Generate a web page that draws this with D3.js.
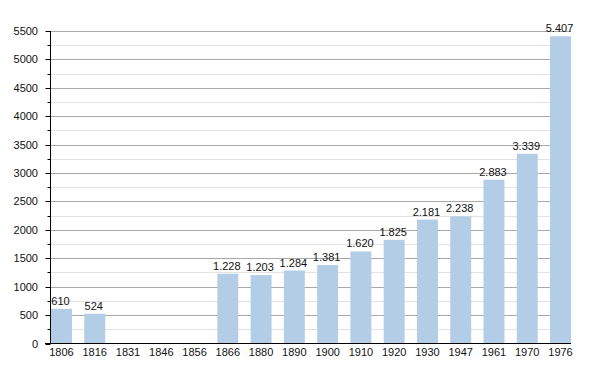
<!DOCTYPE html>
<html>
<head>
<meta charset="utf-8">
<script src="https://cdn.jsdelivr.net/npm/d3@7"></script>
<style>
  body { margin: 0; background: #fff; }
  text { font-family: "Liberation Sans", Arial, sans-serif; font-size: 11px; fill: #111; }
</style>
</head>
<body>
<div id="chart"></div>
<script>
// Data
const years = ["1806", "1816", "1831", "1846", "1856", "1866", "1880", "1890", "1900",
  "1910", "1920", "1930", "1947", "1961", "1970", "1976"];
const population = [610, 524, null, null, null, 1228, 1203, 1284, 1381, 1620, 1825,
  2181, 2238, 2883, 3339, 5407];
const majorTicks = [0, 500, 1000, 1500, 2000, 2500, 3000, 3500, 4000, 4500, 5000, 5500];
const minorTicks = d3.range(250, 5500, 500);

// Chart dimensions
const width = 600, height = 373;
const plotLeft = 50.5, plotRight = 571, plotTop = 31, plotBottom = 343.5;

const svg = d3.select("#chart").append("svg")
  .attr("width", width).attr("height", height);

const x = d3.scaleBand().domain(years).range([51, plotRight])
  .paddingInner(0.37).paddingOuter(0);
const y = d3.scaleLinear().domain([0, 5500]).range([plotBottom, plotTop]);
const py = d => Math.round(y(d)) + 0.5;

// minor grid
svg.append("g").selectAll("line").data(minorTicks).join("line")
  .attr("x1", plotLeft).attr("x2", plotRight)
  .attr("y1", py).attr("y2", py)
  .attr("stroke", "#e2e2e2");

// major grid
svg.append("g").selectAll("line").data(majorTicks.slice(1)).join("line")
  .attr("x1", plotLeft).attr("x2", plotRight)
  .attr("y1", py).attr("y2", py)
  .attr("stroke", "#a8a8a8");

// bars
const data = years.map((yr, i) => ({ yr, v: population[i] })).filter(d => d.v != null);
svg.append("g").selectAll("rect").data(data).join("rect")
  .attr("x", d => x(d.yr)).attr("width", x.bandwidth())
  .attr("y", d => y(d.v)).attr("height", d => y(0) - y(d.v))
  .attr("fill", "#b3cde6");

// value labels, with dot as thousands separator
const fmt = d3.formatLocale({ decimal: ",", thousands: ".", grouping: [3], currency: ["", ""] }).format(",");
svg.append("g").selectAll("text").data(data).join("text")
  .attr("x", d => x(d.yr) + x.bandwidth() / 2 - 1)
  .attr("y", d => y(d.v) - 4)
  .attr("text-anchor", "middle")
  .text(d => fmt(d.v));

// y axis
const yAxis = svg.append("g");
yAxis.append("line").attr("x1", plotLeft).attr("x2", plotLeft).attr("y1", plotTop).attr("y2", plotBottom)
  .attr("stroke", "#000");
yAxis.selectAll(".maj").data(majorTicks).join("line").attr("class", "maj")
  .attr("x1", plotLeft - 5).attr("x2", plotLeft)
  .attr("y1", py).attr("y2", py)
  .attr("stroke", "#000");
yAxis.selectAll(".min").data(minorTicks).join("line").attr("class", "min")
  .attr("x1", plotLeft - 3).attr("x2", plotLeft)
  .attr("y1", py).attr("y2", py)
  .attr("stroke", "#000");
yAxis.selectAll("text").data(majorTicks).join("text")
  .attr("x", 38).attr("y", d => y(d) + 4)
  .attr("text-anchor", "end")
  .text(d => d);

// x axis
const xAxis = svg.append("g");
xAxis.append("line").attr("x1", 45).attr("x2", plotRight).attr("y1", plotBottom).attr("y2", plotBottom)
  .attr("stroke", "#000");
xAxis.selectAll("text").data(years).join("text")
  .attr("x", d => x(d) + x.bandwidth() / 2)
  .attr("y", 356)
  .attr("text-anchor", "middle")
  .text(d => d);
</script>
</body>
</html>
